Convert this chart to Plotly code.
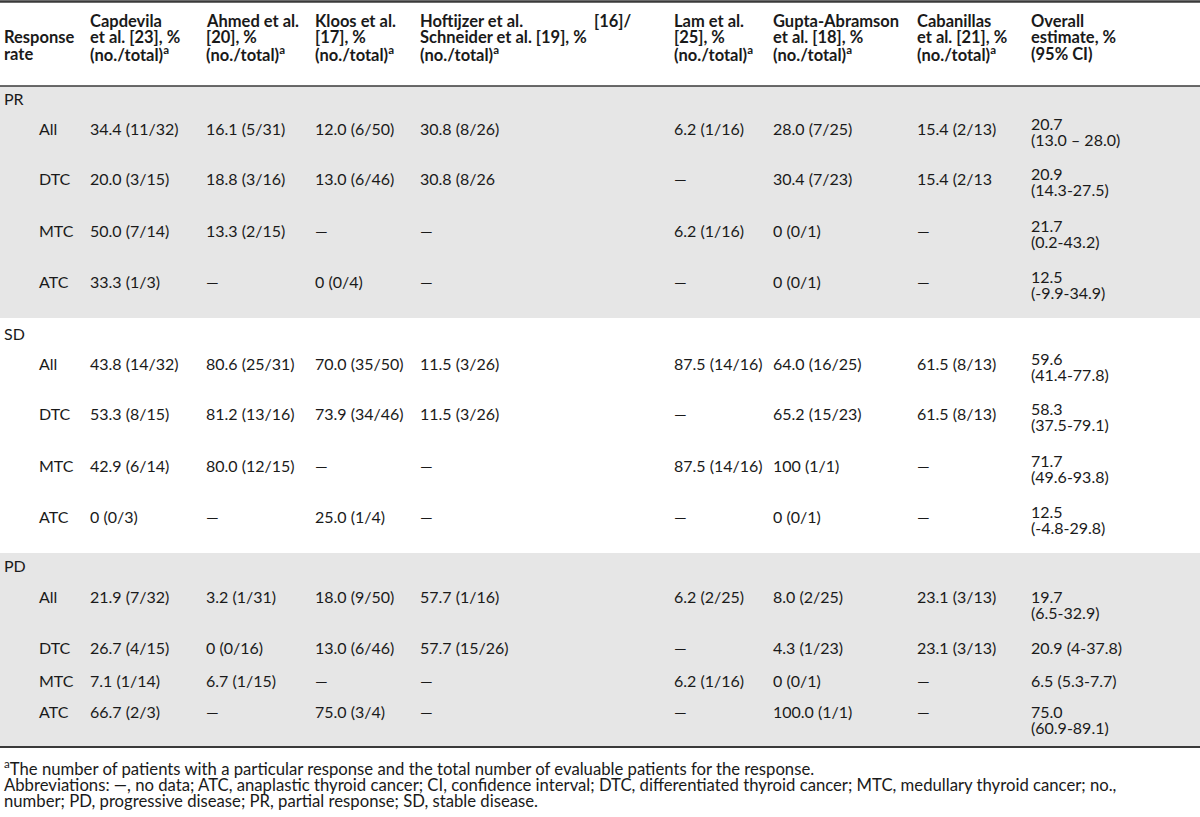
import plotly.graph_objects as go

# ---------------- data ----------------
header_lines = [
    ["", "Response", "rate"],
    ["Capdevila", "et al. [23], %", "(no./total)<sup>a</sup>"],
    ["Ahmed et al.", "[20], %", "(no./total)<sup>a</sup>"],
    ["Kloos et al.", "[17], %", "(no./total)<sup>a</sup>"],
    ["Hoftijzer et al. [16]/", "Schneider et al. [19], %", "(no./total)<sup>a</sup>"],
    ["Lam et al.", "[25], %", "(no./total)<sup>a</sup>"],
    ["Gupta-Abramson", "et al. [18], %", "(no./total)<sup>a</sup>"],
    ["Cabanillas", "et al. [21], %", "(no./total)<sup>a</sup>"],
    ["Overall", "estimate, %", "(95% CI)"],
]

groups = ["PR", "SD", "PD"]
subgroups = ["All", "DTC", "MTC", "ATC"]

pr_values = [
    ["34.4 (11/32)", "16.1 (5/31)", "12.0 (6/50)", "30.8 (8/26)", "6.2 (1/16)", "28.0 (7/25)", "15.4 (2/13)", "20.7\n(13.0 – 28.0)"],
    ["20.0 (3/15)", "18.8 (3/16)", "13.0 (6/46)", "30.8 (8/26", "—", "30.4 (7/23)", "15.4 (2/13", "20.9\n(14.3-27.5)"],
    ["50.0 (7/14)", "13.3 (2/15)", "—", "—", "6.2 (1/16)", "0 (0/1)", "—", "21.7\n(0.2-43.2)"],
    ["33.3 (1/3)", "—", "0 (0/4)", "—", "—", "0 (0/1)", "—", "12.5\n(-9.9-34.9)"],
]
sd_values = [
    ["43.8 (14/32)", "80.6 (25/31)", "70.0 (35/50)", "11.5 (3/26)", "87.5 (14/16)", "64.0 (16/25)", "61.5 (8/13)", "59.6\n(41.4-77.8)"],
    ["53.3 (8/15)", "81.2 (13/16)", "73.9 (34/46)", "11.5 (3/26)", "—", "65.2 (15/23)", "61.5 (8/13)", "58.3\n(37.5-79.1)"],
    ["42.9 (6/14)", "80.0 (12/15)", "—", "—", "87.5 (14/16)", "100 (1/1)", "—", "71.7\n(49.6-93.8)"],
    ["0 (0/3)", "—", "25.0 (1/4)", "—", "—", "0 (0/1)", "—", "12.5\n(-4.8-29.8)"],
]
pd_values = [
    ["21.9 (7/32)", "3.2 (1/31)", "18.0 (9/50)", "57.7 (1/16)", "6.2 (2/25)", "8.0 (2/25)", "23.1 (3/13)", "19.7\n(6.5-32.9)"],
    ["26.7 (4/15)", "0 (0/16)", "13.0 (6/46)", "57.7 (15/26)", "—", "4.3 (1/23)", "23.1 (3/13)", "20.9 (4-37.8)"],
    ["7.1 (1/14)", "6.7 (1/15)", "—", "—", "6.2 (1/16)", "0 (0/1)", "—", "6.5 (5.3-7.7)"],
    ["66.7 (2/3)", "—", "75.0 (3/4)", "—", "—", "100.0 (1/1)", "—", "75.0\n(60.9-89.1)"],
]
group_values = [pr_values, sd_values, pd_values]

footnotes = [
    "<sup>a</sup>The number of patients with a particular response and the total number of evaluable patients for the response.",
    "Abbreviations: —, no data; ATC, anaplastic thyroid cancer; CI, confidence interval; DTC, differentiated thyroid cancer; MTC, medullary thyroid cancer; no.,",
    "number; PD, progressive disease; PR, partial response; SD, stable disease.",
]

# ---------------- layout / style ----------------
W, H = 1200, 817
FONT = "Lato"
TXT = "#1a1a1a"
BAND = "#e6e6e6"
RULE = "#3a3a3a"
FS = 16
HFS = 16.5
FFS = 16.7
LINE_H = 16

col_x = [2, 88, 204, 313, 418, 672, 771, 915, 1029]
just_right = {4: 633}     # header cell set justified: last word right-aligned here
sub_x = 37
header_y = [20.5, 37, 53.5]
group_y = [98, 333, 565]
row_y = [[128, 178, 230, 281], [363, 413, 465, 516], [596, 647, 680, 711]]
overall_y = [[123, 173, 225, 276], [358, 408, 460, 511], [596, 647, 680, 711]]
bands = [(86, 318, BAND), (318, 553, "white"), (553, 747, BAND)]
rules = [(1.5, 2.5), (86, 1.5), (747, 2)]
foot_y = [767, 785, 801]

fig = go.Figure()
shapes = []
for y0, y1, c in bands:
    shapes.append(dict(type="rect", xref="x", yref="y", x0=0, x1=W, y0=y0, y1=y1,
                       fillcolor=c, line=dict(width=0), layer="below"))
for y, w in rules:
    shapes.append(dict(type="line", xref="x", yref="y", x0=0, x1=W, y0=y, y1=y,
                       line=dict(color=RULE, width=w)))

ann = []

def add(x, y, text, bold=False, size=FS, anchor="left"):
    ann.append(dict(x=x, y=y, xref="x", yref="y", text=(f"<b>{text}</b>" if bold else text),
                    showarrow=False, xanchor=anchor, yanchor="middle",
                    font=dict(family=FONT, size=size, color=TXT)))

# header
for ci, lines in enumerate(header_lines):
    for li, t in enumerate(lines):
        if not t:
            continue
        if ci in just_right and li == 0:
            head, last = t.rsplit(" ", 1)
            add(col_x[ci], header_y[li], head, bold=True, size=HFS)
            add(just_right[ci], header_y[li], last, bold=True, size=HFS, anchor="right")
        else:
            add(col_x[ci], header_y[li], t, bold=True, size=HFS)

# body
for gi, g in enumerate(groups):
    add(col_x[0], group_y[gi], g)
    for ri, s in enumerate(subgroups):
        add(sub_x, row_y[gi][ri], s)
        vals = group_values[gi][ri]
        for ci, val in enumerate(vals):
            parts = val.split("\n")
            if ci == len(vals) - 1 and len(parts) > 1:
                y0 = overall_y[gi][ri]
            else:
                y0 = row_y[gi][ri]
            for li, p in enumerate(parts):
                add(col_x[ci + 1], y0 + li * LINE_H, p)

# footnotes
for fi, t in enumerate(footnotes):
    add(2, foot_y[fi], t, size=FFS)

fig.update_layout(
    width=W, height=H,
    margin=dict(l=0, r=0, t=0, b=0),
    paper_bgcolor="white", plot_bgcolor="white",
    xaxis=dict(range=[0, W], visible=False, fixedrange=True),
    yaxis=dict(range=[H, 0], visible=False, fixedrange=True),
    shapes=shapes, annotations=ann, showlegend=False,
)
# remove the page's default body margin so the figure sits at the window's corner
fig.write_html("out.html", config={"displayModeBar": False},
               post_script="document.body.style.margin='0';document.body.style.overflow='hidden';")
